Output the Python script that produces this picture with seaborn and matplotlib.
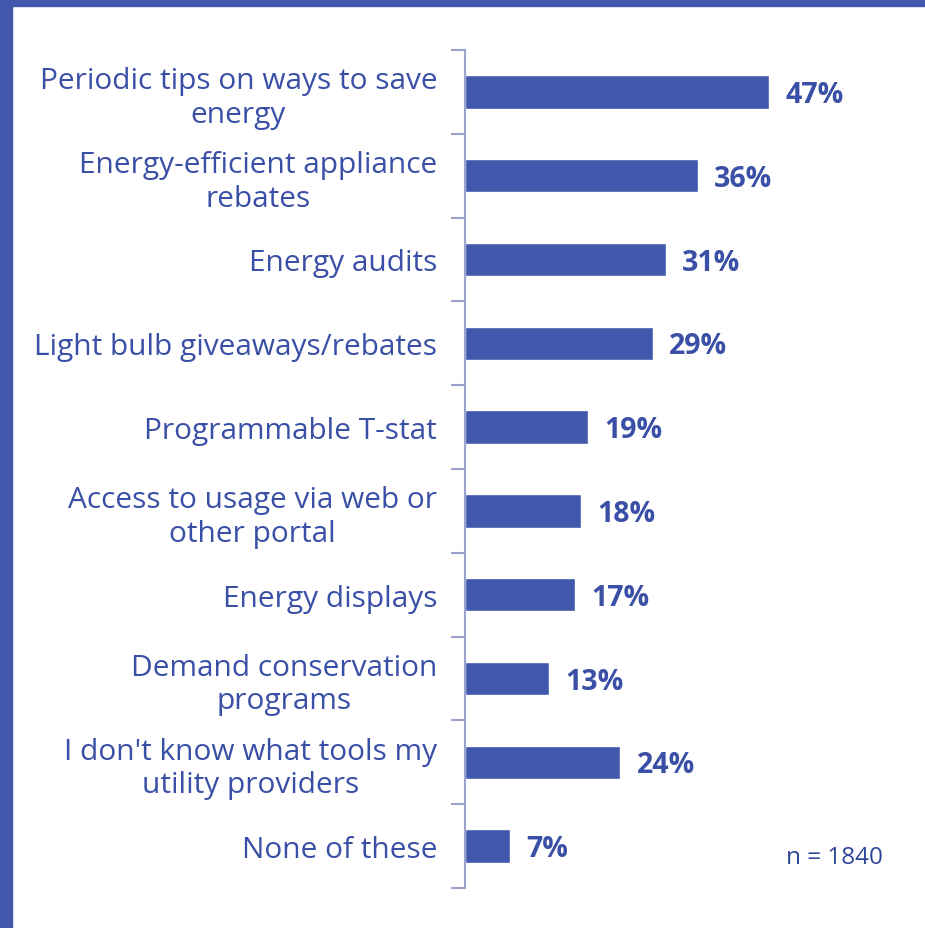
import matplotlib
matplotlib.use("Agg")
import matplotlib.pyplot as plt
from matplotlib.patches import Rectangle
import seaborn as sns
import pandas as pd
import numpy as np

categories = [
    "Periodic tips on ways to save\nenergy",
    "Energy-efficient appliance\nrebates",
    "Energy audits",
    "Light bulb giveaways/rebates",
    "Programmable T-stat",
    "Access to usage via web or\nother portal",
    "Energy displays",
    "Demand conservation\nprograms",
    "I don't know what tools my\nutility providers",
    "None of these",
]
values = [47, 36, 31, 29, 19, 18, 17, 13, 24, 7]
sample_note = "n = 1840"

BAR = "#4158AC"
TEXT = "#3A4FA6"
AXIS = "#9AA2CE"

sns.set_theme(style="white")
plt.rcParams["font.family"] = ["Open Sans", "DejaVu Sans"]

W, H = 925, 929
fig = plt.figure(figsize=(W / 100, H / 100), dpi=100)
ax = fig.add_axes([465 / W, 1 - 889 / H, (W - 465) / W, (889 - 51) / H])

df = pd.DataFrame({"tool": categories, "pct": values})
sns.barplot(data=df, x="pct", y="tool", orient="h", color=BAR, width=0.4,
            saturation=1, ax=ax)

ax.set_xlim(0, 460 / 6.47)
ax.set_ylim(len(categories) - 0.5, -0.5)
ax.set_xlabel("")
ax.set_ylabel("")
ax.set_xticks([])

for s in ["top", "right", "bottom"]:
    ax.spines[s].set_visible(False)
ax.spines["left"].set_color(AXIS)
ax.spines["left"].set_linewidth(1.5)

ax.set_yticks(range(len(categories)))
ax.set_yticklabels(categories, fontsize=21.5, color=TEXT, multialignment="center",
                   linespacing=1.2)
ax.tick_params(axis="y", which="major", length=0, pad=20)
ax.set_yticks(np.arange(-0.5, len(categories), 1.0), minor=True)
ax.tick_params(axis="y", which="minor", length=10, width=1.5, color=AXIS,
               direction="out", left=True)

for i, v in enumerate(values):
    ax.text(v + 2.5, i + 0.03, f"{v}%", va="center", ha="left", fontsize=20.5,
            fontweight="bold", color=TEXT)

fig.text(883 / W, 1 - 858 / H, sample_note, ha="right", va="center",
         fontsize=17.5, color="#2E4598")

# frame bands along the top and left edges
fig.patches.append(Rectangle((0, 1 - 7 / H), 1, 7 / H, transform=fig.transFigure,
                             color=BAR, zorder=10))
fig.patches.append(Rectangle((0, 0), 12 / W, 1, transform=fig.transFigure,
                             color=BAR, zorder=10))

fig.savefig("out.png", dpi=100)
